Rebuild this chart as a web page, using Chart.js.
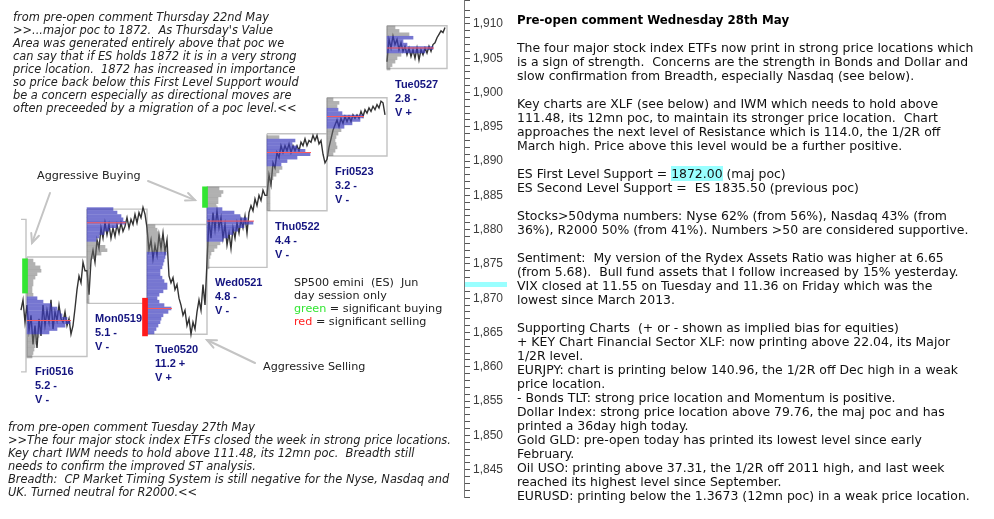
<!DOCTYPE html>
<html>
<head>
<meta charset="utf-8">
<script src="https://cdn.jsdelivr.net/npm/chart.js@4.4.1/dist/chart.umd.min.js"></script>
<style>
html,body{margin:0;padding:0;background:#fff;}
#stage{position:relative;width:994px;height:519px;overflow:hidden;background:#fff;}
#chartBox{position:absolute;left:0;top:0;width:530px;height:519px;}
.txt{position:absolute;white-space:pre;margin:0;z-index:2;}
#rightText{left:517px;top:13.3px;font:12.45px/14px "DejaVu Sans",Verdana,sans-serif;color:#111;}
#rightText b{font-size:11.8px;color:#000;}
.hl{background:#99ffff;}
.ital{font:italic 11.4px/13px "DejaVu Sans",Verdana,sans-serif;color:#222;}
#noteTop{left:13px;top:10.8px;}
#noteBottom{left:8px;top:420.8px;}
.ann{font:11.2px/13px "DejaVu Sans",Verdana,sans-serif;color:#222;}
.day{font:bold 11px/14px "Liberation Sans",Arial,sans-serif;color:#141480;}
</style>
</head>
<body>
<div id="stage">
<div id="chartBox"><canvas id="c" width="530" height="519"></canvas></div>

<div id="noteTop" class="txt ital">from pre-open comment Thursday 22nd May
&gt;&gt;...major poc to 1872.  As Thursday's Value
Area was generated entirely above that poc we
can say that if ES holds 1872 it is in a very strong
price location.  1872 has increased in importance
so price back below this First Level Support would
be a concern especially as directional moves are
often preceeded by a migration of a poc level.&lt;&lt;</div>

<div id="noteBottom" class="txt ital">from pre-open comment Tuesday 27th May
&gt;&gt;The four major stock index ETFs closed the week in strong price locations.
Key chart IWM needs to hold above 111.48, its 12mn poc.  Breadth still
needs to confirm the improved ST analysis.
Breadth:  CP Market Timing System is still negative for the Nyse, Nasdaq and
UK. Turned neutral for R2000.&lt;&lt;</div>

<div class="txt ann" style="left:37px;top:168.6px">Aggressive Buying</div>
<div class="txt ann" style="left:263px;top:359.6px">Aggressive Selling</div>
<div class="txt ann" style="left:294px;top:275.6px">SP500 emini  (ES)  Jun
day session only
<span style="color:#33e633">green</span> = significant buying
<span style="color:#ff2020">red</span> = significant selling</div>

<div id="rightText" class="txt"><b>Pre-open comment Wednesday 28th May</b>

The four major stock index ETFs now print in strong price locations which
is a sign of strength.  Concerns are the strength in Bonds and Dollar and
slow confirmation from Breadth, especially Nasdaq (see below).

Key charts are XLF (see below) and IWM which needs to hold above
111.48, its 12mn poc, to maintain its stronger price location.  Chart
approaches the next level of Resistance which is 114.0, the 1/2R off
March high. Price above this level would be a further positive.

ES First Level Support = <span class="hl">1872.00</span> (maj poc)
ES Second Level Support =  ES 1835.50 (previous poc)

Stocks&gt;50dyma numbers: Nyse 62% (from 56%), Nasdaq 43% (from
36%), R2000 50% (from 41%). Numbers &gt;50 are considered supportive.

Sentiment:  My version of the Rydex Assets Ratio was higher at 6.65
(from 5.68).  Bull fund assets that I follow increased by 15% yesterday.
VIX closed at 11.55 on Tuesday and 11.36 on Friday which was the
lowest since March 2013.

Supporting Charts  (+ or - shown as implied bias for equities)
+ KEY Chart Financial Sector XLF: now printing above 22.04, its Major
1/2R level.
EURJPY: chart is printing below 140.96, the 1/2R off Dec high in a weak
price location.
- Bonds TLT: strong price location and Momentum is positive.
Dollar Index: strong price location above 79.76, the maj poc and has
printed a 36day high today.
Gold GLD: pre-open today has printed its lowest level since early
February.
Oil USO: printing above 37.31, the 1/2R off 2011 high, and last week
reached its highest level since September.
EURUSD: printing below the 1.3673 (12mn poc) in a weak price location.</div>
</div>

<script>
// ================= DATA =================
const dayNames     = ['Fri0516','Mon0519','Tue0520','Wed0521','Thu0522','Fri0523','Tue0527'];
const dayRangeNote = ['5.2 -','5.1 -','11.2 +','4.8 -','4.4 -','3.2 -','2.8 -'];
const dayValueNote = ['V -','V -','V +','V -','V -','V -','V +'];
const dayHigh  = [1876, 1883, 1880.75, 1886.25, 1894, 1899.25, 1909.75];
const dayLow   = [1861.5, 1869.25, 1864.75, 1874.5, 1882.75, 1890.75, 1903.5];
const pocPrice = [1866.75, 1881, 1868.5, 1881.25, 1891.25, 1896.5, 1906.5];
const vaHigh   = [1870, 1883, 1876.5, 1883, 1893, 1897.5, 1908];
const vaLow    = [1865, 1878.5, 1865, 1878.5, 1889.5, 1895, 1906];
const sessionGapBefore = [false, false, false, false, false, false, true];

// volume profile: first row price, then volume per 0.5pt row going down
const profileTop = [1875.5, 1883, 1880.5, 1886, 1893.5, 1899, 1909.5];
const profFri0516 = [6,8,13,14,10,8,6,6,5,5,6,10,16,24,30,33,35,40,43,38,30,22,12,10,9,8,7,6,5];
const profMon0519 = [26,30,34,36,38,30,22,17,12,9,12,18,20,14,8,4,3,3,2,2,2,2,2,2,2,2,2,2];
const profTue0520 = [8,10,11,13,15,16,18,20,19,18,17,16,15,13,13,15,17,20,20,16,12,10,12,17,24,21,16,14,13,11,9,7];
const profWed0521 = [12,16,14,11,11,9,15,27,33,40,46,37,31,26,21,16,13,10,7,4,3,2,2,2];
const profThu0522 = [12,28,25,30,38,43,30,20,14,15,12,9,6,4,4,3,3,3,3,3,3,3];
const profFri0523 = [6,12,10,11,15,36,33,25,17,14,11,9,8,9,10,8,6];
const profTue0527 = [8,12,22,26,16,20,46,38,14,10,8,5,3];

// ES price, sampled every 2 time units through each day session
const priceThu0515Tail = [1868.25, 1869.75, 1866.5];
const priceFri0516 = [1869,1865.25,1867.5,1863.25,1866,1862.75,1867,1864.5,1869,1866,1868.25,1866.5,1869.75,1865.5,1868,1866.75,1869,1867,1866.5,1868,1866,1867,1864.75,1866,1868.5,1871.25,1873.25,1872.25,1875.25,1874];
const priceMon0519 = [1874,1870.5,1875.5,1877,1875.25,1878.5,1877.25,1880.25,1878.75,1881,1879.25,1880.75,1878.75,1880.25,1879,1880.75,1879.5,1881,1879.75,1880.5,1881.75,1880.25,1881.5,1880.75,1882.25,1881,1882.5,1881.75,1883.25,1882.25];
const priceTue0520 = [1880.25,1877,1878.5,1875.75,1877.75,1876.25,1879.25,1877.25,1879.5,1876.75,1878.5,1873.25,1872.25,1873,1871.25,1872,1870,1869,1867.5,1868.25,1866,1867,1864.75,1866.5,1865.5,1868,1869.75,1868.25,1872,1869];
const priceWed0521 = [1875.25,1881.5,1878.75,1882.5,1880,1882.75,1880.25,1881.75,1878.75,1880.75,1877.75,1879.5,1877.25,1880.25,1878.75,1881,1879.5,1881.5,1880.25,1882,1879.5,1882.5,1883.5,1882.75,1884.5,1883.5,1885,1884.25,1885.75,1885];
const priceThu0522 = [1885,1888,1886.5,1889.75,1889,1891.25,1890.5,1892.25,1891.25,1892.25,1891.5,1892.5,1891.25,1892.25,1891.5,1892.25,1891.5,1892.75,1892.25,1893.25,1892.25,1893,1892.75,1893.75,1893,1893.75,1892.5,1893,1891,1889.75];
const priceFri0523 = [1890.25,1892,1893.25,1894.5,1895.25,1896,1895,1896.25,1895.5,1896.5,1895.75,1896.5,1895.75,1896.75,1896.25,1896.75,1896.25,1897.25,1896.5,1897.5,1897,1897.75,1897.25,1898,1897.5,1898.25,1897.75,1898.75,1898.5,1896.75];
const priceTue0527 = [1904.5,1907.75,1906.5,1908.25,1907,1907.75,1906.25,1907.25,1906,1906.75,1905.5,1906.5,1905.25,1906.25,1905,1906.5,1904.75,1906.25,1905.5,1906.5,1905.75,1906.75,1906,1907,1907.25,1908,1908.5,1909,1908.75,1909.5];

// previous session (Thu0515), only its right edge is visible
const prevHigh = 1881.5, prevLow = 1859.25;

// significant buying / selling signals
const signalDay  = [0, 3, 2];
const signalHigh = [1875.75, 1886.25, 1870];
const signalLow  = [1870.75, 1883.25, 1864.5];
const signalKind = ['buy', 'buy', 'sell'];

// arrows: [fromTime, fromPrice] -> [toTime, toPrice]
const arrowFrom = [[23, 1885.35], [121, 1887.1], [228, 1860.55]];
const arrowTo   = [[5, 1878.05], [168, 1884.3], [180, 1863.9]];

const majorPoc = 1872;
const yMin = 1841, yMax = 1913.5;

// ================= BUILD =================
const SESSION = 60, STEP = 2, ROW = 0.5;
const profiles = [profFri0516, profMon0519, profTue0520, profWed0521, profThu0522, profFri0523, profTue0527];
const prices = [priceFri0516, priceMon0519, priceTue0520, priceWed0521, priceThu0522, priceFri0523, priceTue0527];

const vaBars = [], outBars = [], pocPts = [], boxPts = [];
profiles.forEach((rows, d) => {
  const x0 = d * SESSION;
  rows.forEach((vol, k) => {
    const p = profileTop[d] - k * ROW;
    const bar = {y: p, x: [x0, x0 + vol]};
    if (p <= vaHigh[d] && p >= vaLow[d]) vaBars.push(bar); else outBars.push(bar);
  });
  const maxVol = Math.max(...rows);
  pocPts.push({x: x0, y: pocPrice[d]}, {x: x0 + maxVol + 1, y: pocPrice[d]}, {x: x0, y: null});
  const x1 = x0 + SESSION;
  boxPts.push({x:x0,y:dayHigh[d]},{x:x1,y:dayHigh[d]},{x:x1,y:dayLow[d]},{x:x0,y:dayLow[d]},{x:x0,y:dayHigh[d]},{x:x0,y:null});
});
boxPts.push({x:-6,y:prevHigh},{x:-1,y:prevHigh},{x:-1,y:prevLow},{x:-6,y:prevLow},{x:-6,y:null});

const pricePts = priceThu0515Tail.map((v, j) => ({x: -6 + STEP * j, y: v}));
prices.forEach((arr, d) => {
  if (sessionGapBefore[d]) pricePts.push({x: d * SESSION - 1, y: null});
  arr.forEach((v, j) => pricePts.push({x: d * SESSION + STEP * j, y: v}));
});

const signalBars = signalDay.map((d, i) => ({x: d * SESSION - 2, y: [signalLow[i], signalHigh[i]]}));
const signalColors = signalKind.map(k => k === 'buy' ? '#33e633' : '#ff1a1a');

const stage = document.getElementById('stage');

const annotPlugin = {
  id: 'annot',
  afterDatasetsDraw(chart) {
    const {ctx, scales: {x, y}} = chart;
    ctx.save();
    ctx.strokeStyle = '#c4c4c4';
    ctx.lineWidth = 2;
    ctx.lineCap = 'round';
    arrowFrom.forEach((f, i) => {
      const t = arrowTo[i];
      const x1 = x.getPixelForValue(f[0]), y1 = y.getPixelForValue(f[1]);
      const x2 = x.getPixelForValue(t[0]), y2 = y.getPixelForValue(t[1]);
      ctx.beginPath(); ctx.moveTo(x1, y1); ctx.lineTo(x2, y2); ctx.stroke();
      const a = Math.atan2(y2 - y1, x2 - x1), L = 10, w = 0.42;
      ctx.beginPath();
      ctx.moveTo(x2 - L * Math.cos(a - w), y2 - L * Math.sin(a - w));
      ctx.lineTo(x2, y2);
      ctx.lineTo(x2 - L * Math.cos(a + w), y2 - L * Math.sin(a + w));
      ctx.stroke();
    });
    ctx.restore();
  },
  afterDraw(chart) {
    const {ctx, scales: {x, y}} = chart;
    ctx.save();
    ctx.fillStyle = '#99ffff';
    const yc = y.getPixelForValue(majorPoc);
    ctx.fillRect(y.left + 1, yc - 2.5, 42, 5);
    ctx.restore();
    dayNames.forEach((name, d) => {
      let el = document.getElementById('day' + d);
      if (!el) {
        el = document.createElement('div');
        el.id = 'day' + d;
        el.className = 'txt day';
        el.textContent = name + '\n' + dayRangeNote[d] + '\n' + dayValueNote[d];
        stage.appendChild(el);
      }
      el.style.left = (x.getPixelForValue(d * SESSION) + 8) + 'px';
      el.style.top = (y.getPixelForValue(dayLow[d]) + 8) + 'px';
    });
  }
};

new Chart(document.getElementById('c'), {
  type: 'line',
  data: {
    datasets: [
      {type:'bar', label:'signals', data: signalBars, indexAxis:'x', grouped:false, barThickness:5,
       backgroundColor: signalColors, borderWidth:0, order:0},
      {type:'line', label:'poc', data: pocPts, borderColor:'#ff5a5a', borderWidth:1, pointRadius:0, spanGaps:false, order:1},
      {type:'bar', label:'value area', data: vaBars, indexAxis:'y', grouped:false, barThickness:2.9,
       backgroundColor:'rgba(60,60,190,0.70)', borderWidth:0, order:2},
      {type:'bar', label:'outside value', data: outBars, indexAxis:'y', grouped:false, barThickness:2.9,
       backgroundColor:'rgba(105,105,105,0.52)', borderWidth:0, order:3},
      {type:'line', label:'ES', data: pricePts, borderColor:'#333333', borderWidth:1.4, pointRadius:0, spanGaps:false, tension:0, order:4},
      {type:'line', label:'range', data: boxPts, borderColor:'#c2c2c2', borderWidth:1.4, pointRadius:0, spanGaps:false, order:5}
    ]
  },
  options: {
    responsive: false,
    animation: false,
    devicePixelRatio: 1,
    events: [],
    layout: {padding: {left: 0, right: 0, top: 0, bottom: 22}},
    plugins: {legend: {display: false}, tooltip: {enabled: false}},
    scales: {
      x: {type:'linear', display:false, min:-27, max:437, offset:false, grid:{offset:false}},
      y: {type:'linear', position:'right', min:yMin, max:yMax, offset:false,
          grid: {display:true, drawOnChartArea:false, drawTicks:true, tickLength:6, color:'#555', offset:false},
          border: {display:true, color:'#777'},
          ticks: {stepSize:1, autoSkip:false, padding:3, color:'#3c3c3c',
                  font:{family:"'Liberation Sans', Arial, sans-serif", size:12},
                  callback: v => (v % 5 === 0 ? v.toLocaleString('en-US') : '')},
          afterFit: s => { s.width = 66; s.paddingTop = 0; s.paddingBottom = 0; }
      }
    }
  },
  plugins: [annotPlugin]
});
</script>
</body>
</html>
